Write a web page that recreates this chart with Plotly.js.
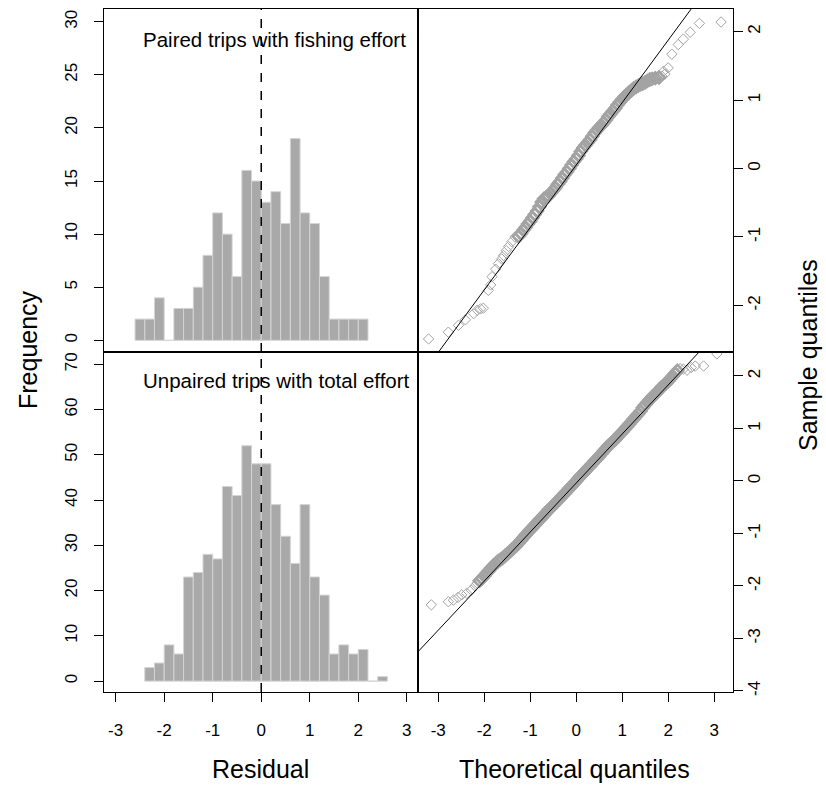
<!DOCTYPE html>
<html>
<head>
<meta charset="utf-8">
<script src="https://cdn.plot.ly/plotly-3.0.1.min.js"></script>
<style>html,body{margin:0;padding:0;background:#fff;}#chart{width:826px;height:787px;}</style>
</head>
<body>
<div id="chart"></div>
<script>
// ---------- DATA ----------
const binWidth = 0.2;
// Paired trips with fishing effort (top histogram)
const topBinLeft = [-2.6,-2.4,-2.2,-2.0,-1.8,-1.6,-1.4,-1.2,-1.0,-0.8,-0.6,-0.4,-0.2,0.0,0.2,0.4,0.6,0.8,1.0,1.2,1.4,1.6,1.8,2.0];
const topCounts  = [2,2,4,0,3,3,5,8,12,10,6,16,15,13,14,11,19,12,11,6,2,2,2,2];
// Unpaired trips with total effort (bottom histogram)
const botBinLeft = [-2.4,-2.2,-2.0,-1.8,-1.6,-1.4,-1.2,-1.0,-0.8,-0.6,-0.4,-0.2,0.0,0.2,0.4,0.6,0.8,1.0,1.2,1.4,1.6,1.8,2.0,2.2,2.4];
const botCounts  = [3,4,8,6,23,24,28,27,43,41,52,48,48,39,32,26,39,23,19,6,8,6,7,0,1];

// QQ plot, paired trips: isolated tail points (theoretical, sample)
const topTailX = [-3.21,-2.78,-2.56,-2.41,-2.23,-2.15,-2.08,-2.02,-1.91,-1.86,-1.83,-1.75,-1.69,-1.62,-1.58,-1.52,-1.47,-1.40,-1.33,
 1.86,1.90,1.93,2.00,2.08,2.22,2.33,2.48,2.68,3.15];
const topTailY = [-2.49,-2.39,-2.29,-2.21,-2.12,-2.07,-2.05,-2.04,-1.78,-1.70,-1.58,-1.47,-1.39,-1.32,-1.27,-1.20,-1.14,-1.07,-1.00,
 1.35,1.42,1.38,1.47,1.67,1.81,1.89,1.99,2.12,2.14];
// QQ plot, paired trips: dense central band
const topBandX = [-1.25,-1.20,-1.15,-1.10,-1.05,-1.00,-0.95,-0.90,-0.85,-0.80,-0.75,-0.70,-0.65,-0.60,-0.55,-0.50,-0.45,-0.40,-0.35,-0.30,-0.25,-0.20,-0.15,-0.10,-0.05,
 0.00,0.05,0.10,0.15,0.20,0.25,0.30,0.35,0.40,0.45,0.50,0.55,0.60,0.65,0.70,0.75,0.80,0.85,0.90,0.95,1.00,1.05,1.10,1.15,1.20,1.25,1.30,1.35,1.40,
 1.45,1.50,1.55,1.60,1.65,1.72,1.80];
const topBandY = [-0.99,-0.95,-0.90,-0.86,-0.81,-0.77,-0.72,-0.67,-0.62,-0.56,-0.49,-0.44,-0.42,-0.40,-0.36,-0.32,-0.28,-0.23,-0.19,-0.14,-0.09,-0.05,0.00,0.05,0.10,
 0.14,0.19,0.25,0.30,0.34,0.38,0.42,0.47,0.52,0.56,0.60,0.63,0.67,0.71,0.76,0.80,0.84,0.88,0.93,0.97,1.01,1.05,1.08,1.11,1.14,1.17,1.19,1.21,1.23,
 1.24,1.26,1.28,1.30,1.31,1.32,1.33];
const topLineIntercept = 0.05, topLineSlope = 0.912;

// QQ plot, unpaired trips: isolated tail points
const botTailX = [-3.15,-2.78,-2.67,-2.57,-2.49,-2.38,-2.28,-2.20,-2.15,
 2.26,2.33,2.41,2.50,2.59,2.77,3.06];
const botTailY = [-2.36,-2.30,-2.27,-2.22,-2.17,-2.14,-2.08,-2.00,-1.95,
 2.14,2.13,2.11,2.16,2.19,2.19,2.42];
// QQ plot, unpaired trips: dense central band
const botBandX = [-2.10,-2.05,-2.00,-1.95,-1.90,-1.85,-1.80,-1.75,-1.70,-1.65,-1.60,-1.55,-1.50,-1.45,-1.40,-1.35,-1.30,-1.25,-1.20,-1.15,-1.10,-1.05,
 -1.00,-0.95,-0.90,-0.85,-0.80,-0.75,-0.70,-0.65,-0.60,-0.55,-0.50,-0.45,-0.40,-0.35,-0.30,-0.25,-0.20,-0.15,-0.10,-0.05,
 0.00,0.05,0.10,0.15,0.20,0.25,0.30,0.35,0.40,0.45,0.50,0.55,0.60,0.65,0.70,0.75,0.80,0.85,0.90,0.95,
 1.00,1.05,1.10,1.15,1.20,1.25,1.30,1.35,1.40,1.45,1.50,1.55,1.60,1.65,1.70,1.75,1.80,1.85,1.90,1.95,
 2.00,2.05,2.10,2.15,2.20];
const botBandY = [-1.90,-1.86,-1.81,-1.76,-1.71,-1.66,-1.61,-1.57,-1.53,-1.50,-1.47,-1.43,-1.39,-1.35,-1.31,-1.27,-1.23,-1.18,-1.13,-1.08,-1.03,-0.98,
 -0.93,-0.89,-0.84,-0.79,-0.74,-0.70,-0.65,-0.60,-0.55,-0.51,-0.47,-0.42,-0.38,-0.33,-0.28,-0.24,-0.19,-0.14,-0.10,-0.05,
 0.00,0.05,0.10,0.14,0.19,0.24,0.28,0.33,0.38,0.42,0.47,0.52,0.57,0.62,0.67,0.71,0.75,0.79,0.84,0.89,
 0.93,0.98,1.03,1.08,1.13,1.18,1.23,1.28,1.33,1.40,1.45,1.50,1.55,1.60,1.64,1.68,1.73,1.78,1.82,1.86,
 1.90,1.95,2.00,2.05,2.10];
const botLineIntercept = -0.04, botLineSlope = 0.934;

const xTicks = [-3,-2,-1,0,1,2,3];
const xTickText = ['-3','-2','-1','0','1','2','3'];
const freqTicksTop = [0,5,10,15,20,25,30];
const freqTicksBot = [0,10,20,30,40,50,60,70];
const sampTicksTop = [-2,-1,0,1,2];
const sampTextTop = ['-2','-1','0','1','2'];
const sampTicksBot = [-4,-3,-2,-1,0,1,2];
const sampTextBot = ['-4','-3','-2','-1','0','1','2'];

// ---------- LAYOUT HELPERS ----------
const W = 826, H = 787;
const px = v => v / W;
const py = v => 1 - v / H;
const FONT = "Liberation Sans, Arial, sans-serif";
const tickFont = {family: FONT, size: 17, color: '#000'};

const leftDom = [px(104), px(418)];
const rightDom = [px(418), px(733)];
const topDom = [py(352), py(9)];
const botDom = [py(692), py(352)];

const xRangeL = [-3.24, 3.23];
const xRangeR = [-3.44, 3.41];

function baseAxis(extra) {
  return Object.assign({
    showline: true, mirror: true, linecolor: '#000', linewidth: 1,
    showgrid: false, zeroline: false, fixedrange: true,
    ticks: 'outside', ticklen: 9, tickwidth: 1, tickcolor: '#000',
    tickfont: tickFont
  }, extra);
}

const barStyle = {color: '#a9a9a9', line: {color: '#d4d4d4', width: 1}};
const ptColor = '#a3a3a3';
const tailStyle = {symbol: 'diamond-open', size: 8, color: ptColor, line: {width: 1, color: ptColor}};
const bandStyle = {symbol: 'diamond-open', size: 9, color: ptColor, line: {width: 2.6, color: ptColor}};

function linePts(a, b, range) {
  return {x: [range[0], range[1]], y: [a + b * range[0], a + b * range[1]]};
}
const topLine = linePts(topLineIntercept, topLineSlope, xRangeR);
const botLine = linePts(botLineIntercept, botLineSlope, xRangeR);

const traces = [
  {type: 'bar', x: botBinLeft, y: botCounts, width: binWidth, offset: 0, marker: barStyle, xaxis: 'x', yaxis: 'y', hoverinfo: 'none'},
  {type: 'bar', x: topBinLeft, y: topCounts, width: binWidth, offset: 0, marker: barStyle, xaxis: 'x2', yaxis: 'y2', hoverinfo: 'none'},
  {type: 'scatter', mode: 'markers', x: botBandX, y: botBandY, marker: bandStyle, xaxis: 'x3', yaxis: 'y3', hoverinfo: 'none'},
  {type: 'scatter', mode: 'markers', x: botTailX, y: botTailY, marker: tailStyle, xaxis: 'x3', yaxis: 'y3', hoverinfo: 'none'},
  {type: 'scatter', mode: 'lines', x: botLine.x, y: botLine.y, line: {color: '#000', width: 1}, xaxis: 'x3', yaxis: 'y3', hoverinfo: 'none'},
  {type: 'scatter', mode: 'markers', x: topBandX, y: topBandY, marker: bandStyle, xaxis: 'x4', yaxis: 'y4', hoverinfo: 'none'},
  {type: 'scatter', mode: 'markers', x: topTailX, y: topTailY, marker: tailStyle, xaxis: 'x4', yaxis: 'y4', hoverinfo: 'none'},
  {type: 'scatter', mode: 'lines', x: topLine.x, y: topLine.y, line: {color: '#000', width: 1}, xaxis: 'x4', yaxis: 'y4', hoverinfo: 'none'}
];

const layout = {
  width: W, height: H,
  margin: {l: 0, r: 0, t: 0, b: 0},
  paper_bgcolor: '#fff', plot_bgcolor: '#fff',
  showlegend: false,
  font: {family: FONT, color: '#000'},
  xaxis: baseAxis({domain: leftDom, range: xRangeL, anchor: 'y', tickvals: xTicks, ticktext: xTickText, ticklabelstandoff: 14}),
  yaxis: baseAxis({domain: botDom, range: [-2.4, 72.7], anchor: 'x', tickvals: freqTicksBot, tickangle: -90, ticklabelstandoff: 10}),
  xaxis2: baseAxis({domain: leftDom, range: xRangeL, anchor: 'y2', ticks: '', showticklabels: false}),
  yaxis2: baseAxis({domain: topDom, range: [-1.1, 31.2], anchor: 'x2', tickvals: freqTicksTop, tickangle: -90, ticklabelstandoff: 10}),
  xaxis3: baseAxis({domain: rightDom, range: xRangeR, anchor: 'y3', tickvals: xTicks, ticktext: xTickText, ticklabelstandoff: 14}),
  yaxis3: baseAxis({domain: botDom, range: [-4.02, 2.457], anchor: 'x3', side: 'right', tickvals: sampTicksBot, ticktext: sampTextBot, tickangle: -90, ticklabelstandoff: -3}),
  xaxis4: baseAxis({domain: rightDom, range: xRangeR, anchor: 'y4', ticks: '', showticklabels: false}),
  yaxis4: baseAxis({domain: topDom, range: [-2.68, 2.33], anchor: 'x4', side: 'right', tickvals: sampTicksTop, ticktext: sampTextTop, tickangle: -90, ticklabelstandoff: -3}),
  shapes: [
    {type: 'line', xref: 'x', yref: 'y domain', x0: 0, x1: 0, y0: 0, y1: 1, line: {color: '#000', width: 1.5, dash: 'dash'}},
    {type: 'line', xref: 'x2', yref: 'y2 domain', x0: 0, x1: 0, y0: 0, y1: 1, line: {color: '#000', width: 1.5, dash: 'dash'}}
  ],
  annotations: [
    {text: 'Paired trips with fishing effort', xref: 'paper', yref: 'paper', x: px(274), y: py(40), xanchor: 'center', yanchor: 'middle', showarrow: false, font: {family: FONT, size: 20.5}},
    {text: 'Unpaired trips with total effort', xref: 'paper', yref: 'paper', x: px(276), y: py(380), xanchor: 'center', yanchor: 'middle', showarrow: false, font: {family: FONT, size: 20.5}},
    {text: 'Frequency', xref: 'paper', yref: 'paper', x: px(28), y: py(350), textangle: -90, xanchor: 'center', yanchor: 'middle', showarrow: false, font: {family: FONT, size: 25}},
    {text: 'Sample quantiles', xref: 'paper', yref: 'paper', x: px(808), y: py(355), textangle: -90, xanchor: 'center', yanchor: 'middle', showarrow: false, font: {family: FONT, size: 25}},
    {text: 'Residual', xref: 'paper', yref: 'paper', x: px(260), y: py(769), xanchor: 'center', yanchor: 'middle', showarrow: false, font: {family: FONT, size: 25}},
    {text: 'Theoretical quantiles', xref: 'paper', yref: 'paper', x: px(574), y: py(769), xanchor: 'center', yanchor: 'middle', showarrow: false, font: {family: FONT, size: 25}}
  ]
};

Plotly.newPlot('chart', traces, layout, {staticPlot: true, displayModeBar: false});
</script>
</body>
</html>
